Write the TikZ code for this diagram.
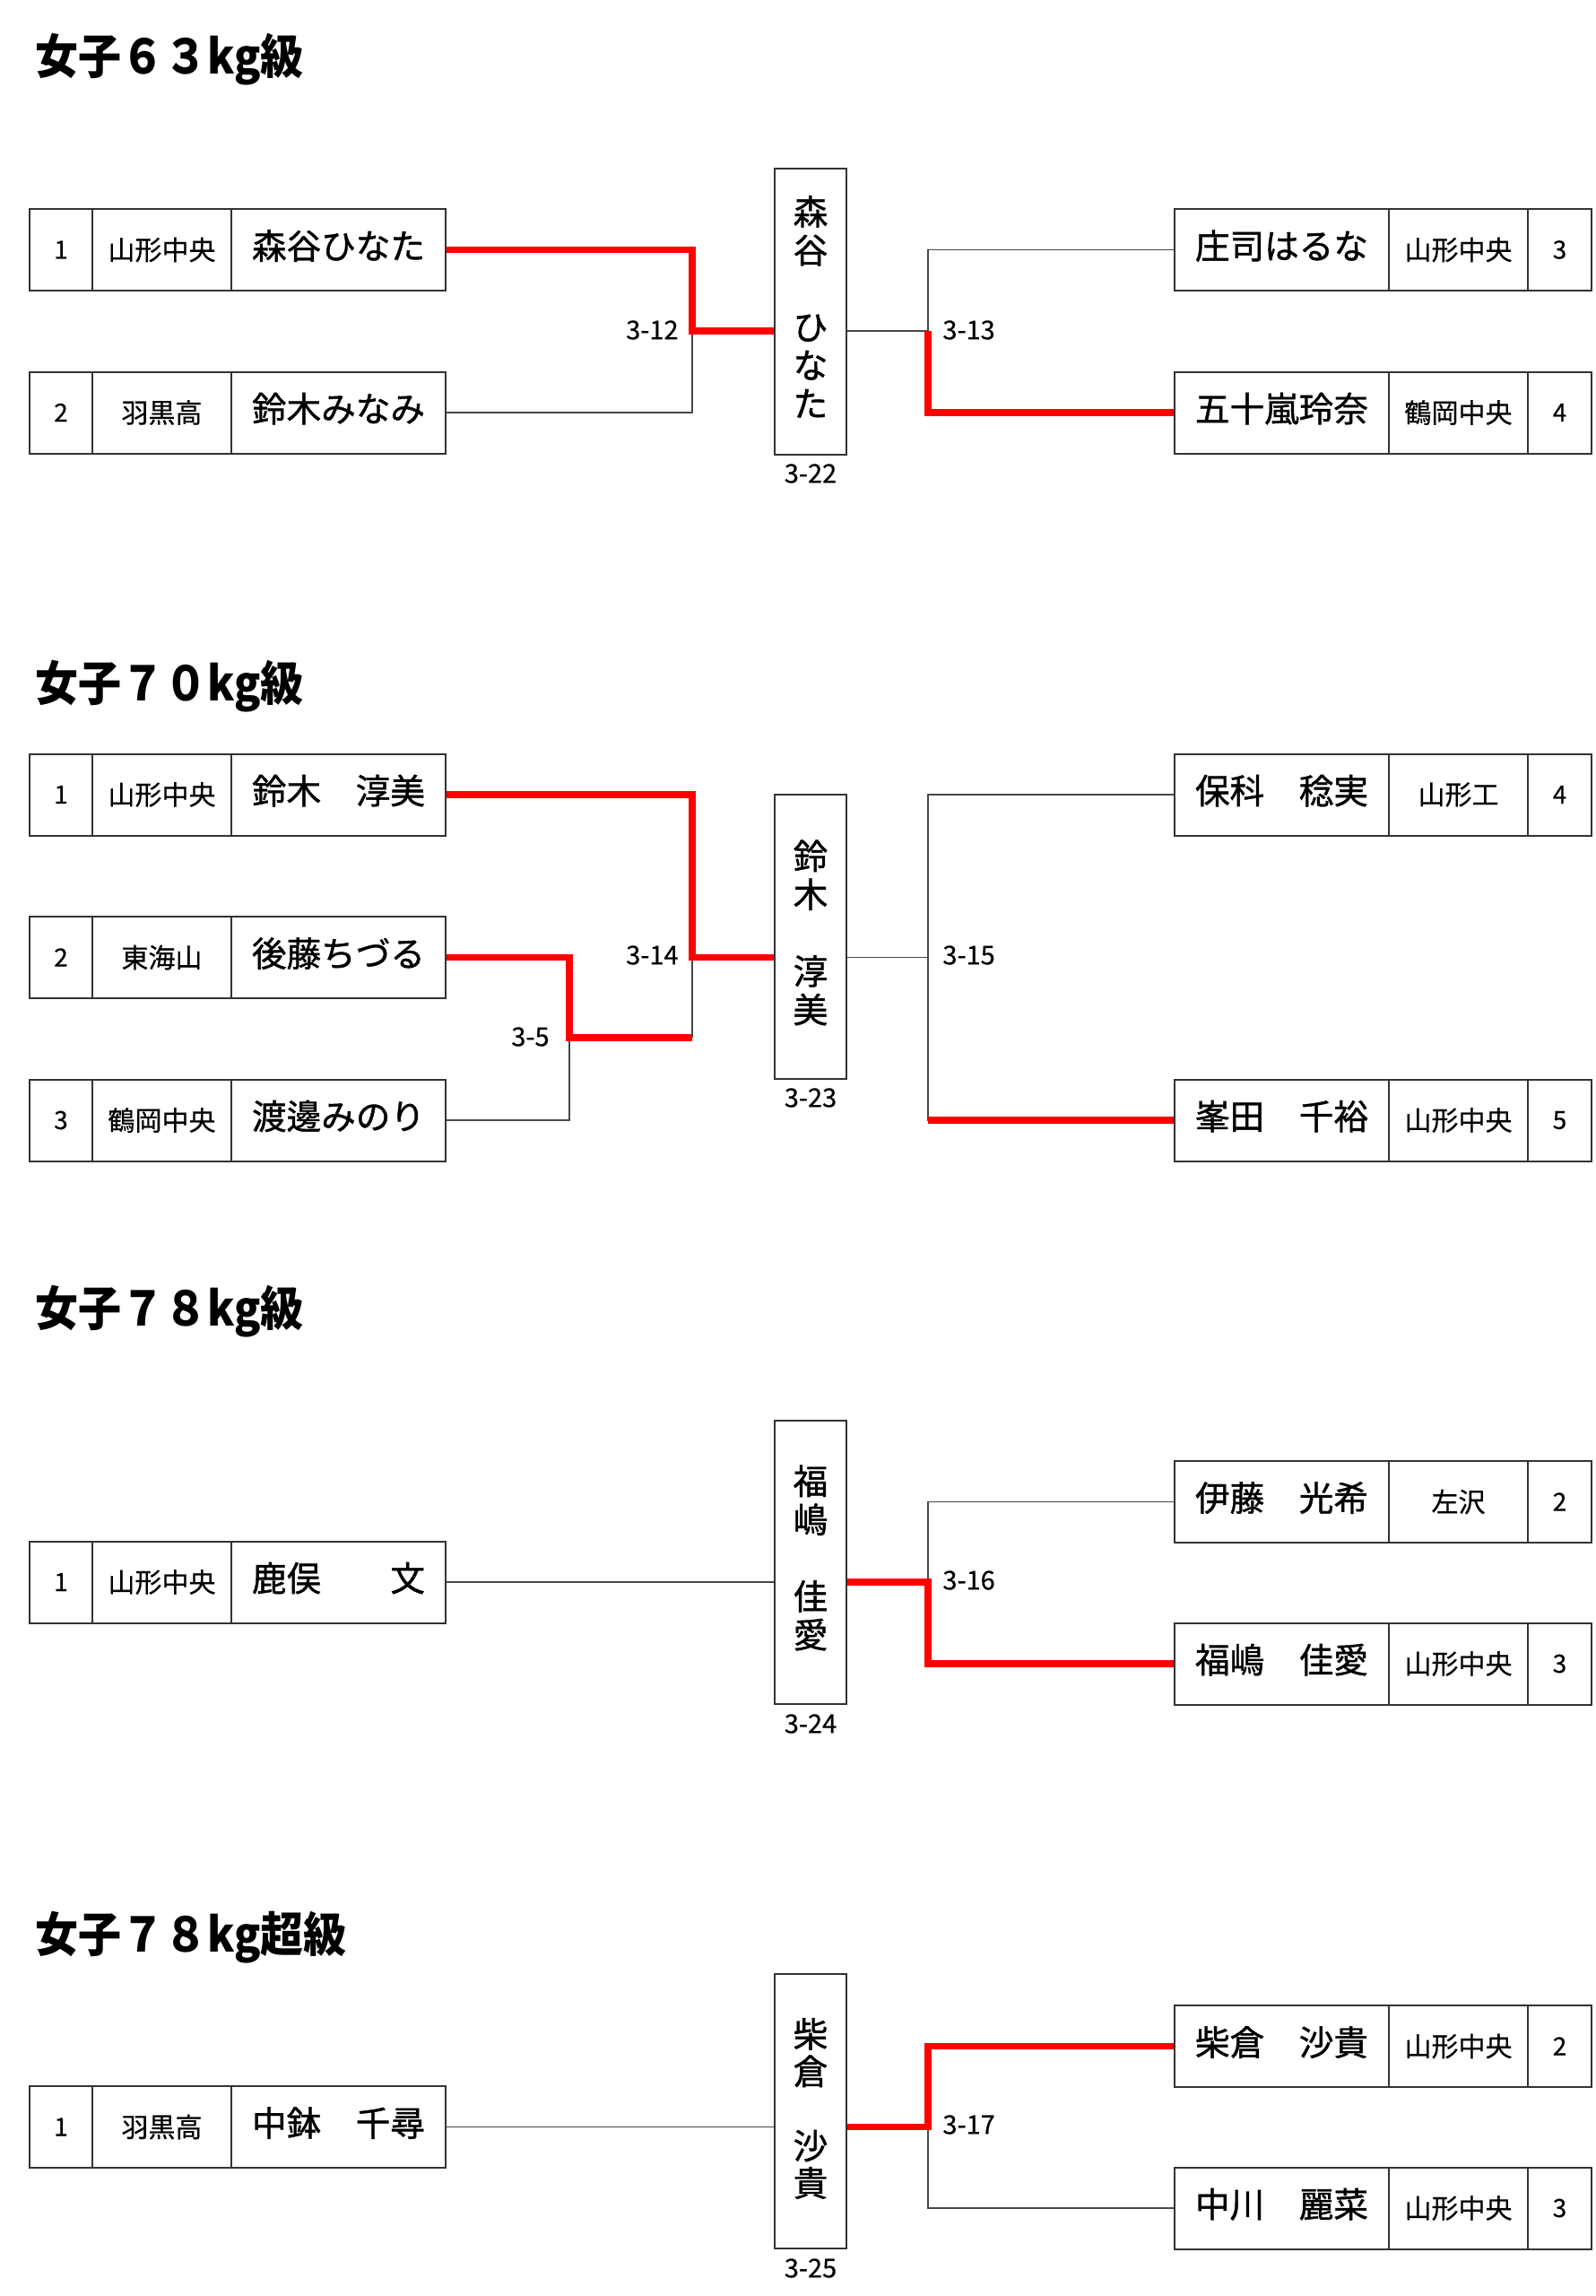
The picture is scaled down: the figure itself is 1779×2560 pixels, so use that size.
\documentclass[tikz,border=0pt]{standalone}
\usepackage{fontspec}
\usepackage{graphicx}
\setmainfont{Noto Sans CJK JP}
\newfontfamily\jpmed{Noto Sans CJK JP}[FakeBold=1.1]
\newfontfamily\jpsch{Noto Sans CJK JP}[FakeBold=0.4]
\newfontfamily\jptitle{Noto Sans CJK JP}[BoldFont=*, BoldFeatures={FakeBold=1.2}]
\newcommand\entryL[5]{%
  \node[numcell] (#1n) at (68,#2) {#3};
  \node[schcell] (#1s) at (180.5,#2) {#4};
  \node[namecell] (#1) at (377.5,#2) {#5};}
\newcommand\entryR[5]{%
  \node[namecell] (#1) at (1429.5,#2) {#5};
  \node[schcell] (#1s) at (1626.5,#2) {#4};
  \node[numcell, minimum width=35.5pt] (#1n) at (1739.5,#2) {#3};}
\newcommand\ttl[1]{\scalebox{0.96}[1.06]{#1}}
\begin{document}
\begin{tikzpicture}[x=0.5pt,y=-0.5pt,
  cellbox/.style={draw=black!80, line width=1pt, inner sep=0pt, minimum height=45.5pt, align=center},
  numcell/.style={cellbox, minimum width=35pt, font=\jpsch\fontsize{14}{16}\selectfont},
  schcell/.style={cellbox, minimum width=77.5pt, font=\jpsch\fontsize{15}{17}\selectfont},
  namecell/.style={cellbox, minimum width=119.5pt, font=\jpmed\fontsize{19.3}{22}\selectfont, text height=17pt, text depth=6.8pt},
  centerbox/.style={draw=black!80, line width=1pt, minimum width=40pt, inner sep=0pt},
  vtext/.style={align=center, inner sep=0pt},
  matchlbl/.style={font=\jpsch\fontsize{14.5}{16}\selectfont, inner sep=0pt},
  titlelbl/.style={font=\fontsize{25}{28}\selectfont\bfseries, anchor=west, inner sep=0pt},
  greyline/.style={draw=black!72, line width=0.8pt},
  redline/.style={draw=red, line width=3.8pt}]
\fill[white] (0,0) rectangle (1779,2560);
\useasboundingbox (0,0) rectangle (1779,2560);

% ---------------- Section 1 ----------------
\node[titlelbl] (t1) at (39,66) {\ttl{女子６３kg級}};
\entryL{s1l1}{278.5}{1}{山形中央}{森谷ひなた}
\entryL{s1l2}{460}{2}{羽黒高}{鈴木みなみ}
\entryR{s1r1}{278.5}{3}{山形中央}{庄司はるな}
\entryR{s1r2}{460}{4}{鶴岡中央}{五十嵐玲奈}
\node[centerbox, minimum height=159.5pt] (c1) at (904,347) {};
\node[vtext, font=\jpmed\fontsize{19.3}{21.4}\selectfont] (c1t) at (904,342) {森\\谷\\　\\ひ\\な\\た};
\coordinate (s1jl) at (772,369);
\coordinate (s1jr) at (1035,369);
\draw[greyline] (s1l2.east) -| (s1jl);
\draw[redline] (s1l1.east) -| (s1jl) -- (c1.west |- s1jl);
\draw[greyline] (c1.east |- s1jr) -- (s1jr);
\draw[greyline] (s1jr) |- (s1r1.west);
\draw[redline] (s1jr) |- (s1r2.west);
\node[matchlbl, anchor=east] (m312) at (757,368) {3-12};
\node[matchlbl, anchor=west] (m313) at (1051,368) {3-13};
\node[matchlbl] (m322) at (904,528) {3-22};

% ---------------- Section 2 ----------------
\node[titlelbl] (t2) at (39,765) {\ttl{女子７０kg級}};
\entryL{s2l1}{886}{1}{山形中央}{鈴木　淳美}
\entryL{s2l2}{1067.5}{2}{東海山}{後藤ちづる}
\entryL{s2l3}{1249}{3}{鶴岡中央}{渡邊みのり}
\entryR{s2r1}{886}{4}{山形工}{保科　稔実}
\entryR{s2r2}{1249}{5}{山形中央}{峯田　千裕}
\node[centerbox, minimum height=158.5pt] (c2) at (904,1044.5) {};
\node[vtext, font=\jpmed\fontsize{19.3}{21.4}\selectfont] (c2t) at (904,1040) {鈴\\木\\　\\淳\\美};
\coordinate (s2ja) at (772,1067.5);
\coordinate (s2jb) at (635,1157);
\coordinate (s2jr) at (1035,1067.5);
\draw[greyline] (s2l3.east) -| (s2jb);
\draw[greyline] (s2jb -| s2ja) -- (s2ja);
\draw[redline] (s2l2.east) -| (s2jb) -- (s2jb -| s2ja);
\draw[redline] (s2l1.east) -| (s2ja) -- (c2.west |- s2ja);
\draw[greyline] (c2.east |- s2jr) -- (s2jr);
\draw[greyline] (s2r1.west) -| (s2jr);
\draw[greyline] (s2r2.west) -| (s2jr);
\draw[redline] (s2r2.west) -- (s2r2.west -| s2jr);
\node[matchlbl, anchor=east] (m314) at (757,1065) {3-14};
\node[matchlbl, anchor=east] (m35) at (613,1156) {3-5};
\node[matchlbl, anchor=west] (m315) at (1051,1065) {3-15};
\node[matchlbl] (m323) at (904,1224) {3-23};

% ---------------- Section 3 ----------------
\node[titlelbl] (t3) at (39,1462) {\ttl{女子７８kg級}};
\entryL{s3l1}{1764}{1}{山形中央}{鹿俣　　文}
\entryR{s3r1}{1674.5}{2}{左沢}{伊藤　光希}
\entryR{s3r2}{1855}{3}{山形中央}{福嶋　佳愛}
\node[centerbox, minimum height=158pt] (c3) at (904,1742) {};
\node[vtext, font=\jpmed\fontsize{19.3}{21.4}\selectfont] (c3t) at (904,1737) {福\\嶋\\　\\佳\\愛};
\coordinate (s3jr) at (1035,1764);
\draw[greyline] (s3l1.east) -- (c3.west |- s3l1.east);
\draw[greyline] (s3r1.west) -| (s3jr);
\draw[redline] (c3.east |- s3jr) -- (s3jr) |- (s3r2.west);
\node[matchlbl, anchor=west] (m316) at (1051,1762) {3-16};
\node[matchlbl] (m324) at (904,1922) {3-24};

% ---------------- Section 4 ----------------
\node[titlelbl] (t4) at (39,2160) {\ttl{女子７８kg超級}};
\entryL{s4l1}{2371.5}{1}{羽黒高}{中鉢　千尋}
\entryR{s4r1}{2281.5}{2}{山形中央}{柴倉　沙貴}
\entryR{s4r2}{2462}{3}{山形中央}{中川　麗菜}
\node[centerbox, minimum height=153pt] (c4) at (904,2354) {};
\node[vtext, font=\jpmed\fontsize{19.3}{20.75}\selectfont] (c4t) at (904,2351) {柴\\倉\\　\\沙\\貴};
\coordinate (s4jr) at (1035,2371.5);
\draw[greyline] (s4l1.east) -- (c4.west |- s4l1.east);
\draw[greyline] (s4r2.west) -| (s4jr);
\draw[redline] (c4.east |- s4jr) -- (s4jr) |- (s4r1.west);
\node[matchlbl, anchor=west] (m317) at (1051,2369) {3-17};
\node[matchlbl] (m325) at (904,2529) {3-25};
\end{tikzpicture}
\end{document}
